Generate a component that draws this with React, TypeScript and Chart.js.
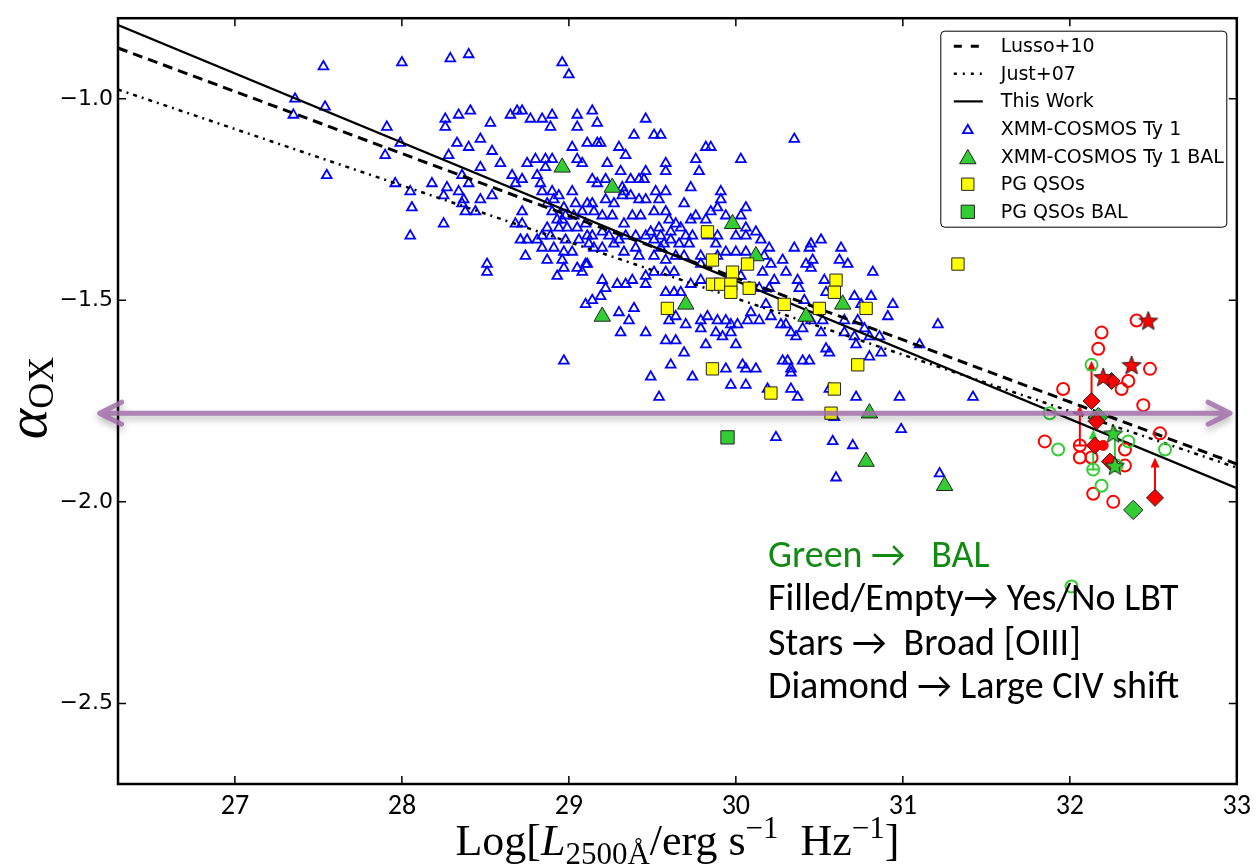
import React, { useEffect, useRef } from 'react';
import { Chart, registerables } from 'chart.js';

Chart.register(...registerables);

// ---------------- data ----------------
const X_MIN = 26.3;
const X_MAX = 33;
const Y_MIN = -2.7;
const Y_MAX = -0.8;
const xTickValues = [27, 28, 29, 30, 31, 32, 33];
const yTickValues = [-2.5, -2.0, -1.5, -1.0];

const lineX = [26.3, 33];
const lussoY = [-0.874, -1.906];
const justY = [-0.977, -1.915];
const thisWorkY = [-0.817, -1.966];

const cosmosTy1: [number, number][] = [
  [27.53,-0.92],[28.00,-0.91],[28.29,-0.90],[28.40,-0.89],[28.96,-0.91],[29.00,-0.94],[27.36,-1.00],[27.35,-1.04],
  [27.54,-1.02],[27.91,-1.07],[27.99,-1.11],[27.90,-1.14],[27.55,-1.19],[27.96,-1.21],[28.05,-1.23],[28.06,-1.27],
  [28.25,-1.31],[28.05,-1.34],[28.51,-1.41],[28.51,-1.43],[28.18,-1.21],[28.26,-1.05],[28.26,-1.07],[28.34,-1.04],
  [28.41,-1.03],[28.53,-1.06],[28.33,-1.11],[28.40,-1.12],[28.47,-1.10],[28.28,-1.14],[28.36,-1.19],[28.40,-1.21],
  [28.47,-1.17],[28.34,-1.23],[28.25,-1.24],[28.37,-1.25],[28.47,-1.25],[28.44,-1.28],[28.38,-1.28],[28.54,-1.13],
  [28.59,-1.16],[28.54,-1.24],[28.65,-1.04],[28.69,-1.03],[28.72,-1.03],[28.77,-1.05],[28.84,-1.05],[28.90,-1.04],
  [28.89,-1.07],[29.05,-1.04],[29.05,-1.07],[29.14,-1.03],[29.17,-1.06],[29.46,-1.05],[29.02,-1.12],[29.11,-1.11],
  [29.17,-1.11],[29.05,-1.15],[29.08,-1.16],[28.90,-1.15],[28.75,-1.16],[28.80,-1.15],[28.86,-1.15],[28.66,-1.19],
  [28.72,-1.20],[28.81,-1.19],[28.68,-1.21],[28.83,-1.21],[28.84,-1.23],[28.90,-1.23],[28.94,-1.24],[28.91,-1.25],
  [29.02,-1.23],[29.14,-1.20],[29.17,-1.21],[28.71,-1.35],[28.75,-1.35],[28.81,-1.35],[28.74,-1.39],[28.84,-1.37],
  [28.87,-1.40],[28.91,-1.37],[28.96,-1.40],[28.97,-1.42],[28.93,-1.44],[29.08,-1.43],[29.02,-1.38],[29.06,-1.35],
  [29.11,-1.41],[29.15,-1.37],[29.12,-1.36],[28.99,-1.32],[28.93,-1.30],[28.87,-1.32],[28.96,-1.30],[29.05,-1.32],
  [29.11,-1.34],[29.15,-1.28],[28.98,-1.35],[29.10,-1.31],[28.94,-1.32],[28.98,-1.29],[29.03,-1.29],[29.08,-1.28],
  [29.11,-1.26],[29.04,-1.26],[28.97,-1.27],[28.90,-1.28],[28.87,-1.26],[28.68,-1.31],[28.72,-1.31],[28.72,-1.28],
  [28.89,-1.34],[29.05,-1.42],[29.10,-1.41],[28.97,-1.38],[29.14,-1.34],[28.97,-1.65],
  [28.27,-1.22],[28.36,-1.26],[28.86,-1.17],[29.14,-1.26],[28.84,-1.34],
  [29.39,-1.09],[29.51,-1.09],[29.55,-1.09],[29.19,-1.11],[29.30,-1.12],[29.34,-1.14],[29.23,-1.16],[29.31,-1.18],
  [29.46,-1.18],[29.45,-1.20],[29.37,-1.20],[29.22,-1.20],[29.32,-1.22],[29.33,-1.23],[29.42,-1.20],[29.58,-1.16],
  [29.58,-1.18],[29.76,-1.15],[29.78,-1.18],[29.82,-1.12],[29.85,-1.12],[30.03,-1.15],[29.73,-1.22],[29.58,-1.23],
  [29.52,-1.23],[29.54,-1.25],[29.46,-1.25],[29.42,-1.25],[29.37,-1.24],[29.32,-1.24],[29.27,-1.26],[29.22,-1.25],
  [29.20,-1.29],[29.26,-1.29],[29.33,-1.31],[29.38,-1.29],[29.43,-1.29],[29.51,-1.28],[29.58,-1.28],[29.64,-1.31],
  [29.69,-1.26],[29.60,-1.30],[29.54,-1.32],[29.49,-1.33],[29.55,-1.34],[29.61,-1.33],[29.67,-1.32],[29.73,-1.30],
  [29.76,-1.29],[29.82,-1.30],[29.85,-1.28],[29.89,-1.27],[29.94,-1.29],[29.91,-1.23],[29.91,-1.25],[30.06,-1.27],
  [30.03,-1.29],[30.06,-1.32],[30.12,-1.33],[30.06,-1.34],[30.00,-1.34],[29.89,-1.34],[29.88,-1.36],[29.79,-1.39],
  [29.83,-1.34],[29.70,-1.34],[29.74,-1.34],[29.72,-1.36],[29.66,-1.36],[29.61,-1.35],[29.57,-1.36],[29.51,-1.35],
  [29.46,-1.34],[29.40,-1.34],[29.34,-1.34],[29.30,-1.35],[29.24,-1.34],[29.20,-1.33],[29.20,-1.37],[29.27,-1.36],
  [29.33,-1.38],[29.40,-1.37],[29.42,-1.39],[29.51,-1.39],[29.55,-1.37],[29.58,-1.40],[29.64,-1.39],[29.69,-1.39],
  [29.79,-1.41],[29.89,-1.39],[29.94,-1.38],[30.00,-1.38],[30.06,-1.38],[30.13,-1.39],[30.17,-1.39],[30.20,-1.37],
  [30.15,-1.35],[30.28,-1.40],[30.30,-1.43],[30.21,-1.41],[30.16,-1.43],[30.23,-1.45],[30.20,-1.47],[30.14,-1.47],
  [30.03,-1.44],[29.63,-1.43],[29.58,-1.43],[29.51,-1.43],[29.46,-1.44],[29.46,-1.46],[29.38,-1.45],[29.34,-1.46],
  [29.29,-1.46],[29.22,-1.47],[29.20,-1.45],[29.58,-1.48],[29.63,-1.48],[29.67,-1.48],[29.73,-1.46],[29.79,-1.45],
  [30.35,-1.10],
  [30.51,-1.35],[30.45,-1.36],[30.44,-1.37],[30.35,-1.37],[30.46,-1.40],[30.42,-1.41],[30.45,-1.42],[30.63,-1.37],
  [30.62,-1.40],[30.67,-1.41],[30.82,-1.43],[30.37,-1.45],[30.38,-1.47],[30.53,-1.45],[30.54,-1.48],[30.71,-1.49],
  [30.81,-1.49],[30.94,-1.51],[30.41,-1.50],
  [29.10,-1.51],[29.14,-1.50],[29.19,-1.49],[29.30,-1.53],[29.36,-1.55],[29.39,-1.52],[29.31,-1.58],[29.46,-1.58],
  [29.58,-1.60],[29.64,-1.60],[29.69,-1.63],[29.61,-1.66],[29.49,-1.69],[29.54,-1.74],[29.74,-1.69],[29.82,-1.61],
  [29.60,-1.55],[29.64,-1.54],[29.70,-1.56],[29.79,-1.57],[29.79,-1.55],[29.83,-1.54],[29.88,-1.58],[29.92,-1.59],
  [29.97,-1.58],[30.00,-1.61],[29.97,-1.56],[30.01,-1.56],[29.94,-1.55],[29.89,-1.55],[30.07,-1.55],[30.09,-1.53],
  [30.14,-1.55],[30.18,-1.51],[30.21,-1.54],[30.27,-1.56],[30.30,-1.56],[30.33,-1.58],[30.36,-1.59],[30.40,-1.57],
  [30.45,-1.55],[30.51,-1.58],[30.52,-1.55],[30.54,-1.62],[30.56,-1.63],[30.65,-1.58],[30.71,-1.59],[30.72,-1.61],
  [30.77,-1.57],[30.80,-1.59],[30.86,-1.59],[30.80,-1.64],[30.87,-1.63],[30.91,-1.54],[31.10,-1.61],[31.21,-1.56],
  [30.73,-1.55],[30.65,-1.55],[30.75,-1.51],[29.94,-1.67],[30.04,-1.66],[30.06,-1.67],[30.12,-1.67],[29.97,-1.71],
  [30.06,-1.71],[30.28,-1.65],[30.31,-1.65],[30.33,-1.67],[30.33,-1.68],[30.40,-1.65],[30.44,-1.65],[30.33,-1.72],
  [30.37,-1.74],[30.19,-1.72],[30.56,-1.72],[30.72,-1.74],[30.98,-1.74],[31.42,-1.74],[30.59,-1.79],[30.24,-1.84],
  [30.58,-1.85],[30.70,-1.86],[30.99,-1.82],[30.60,-1.94],[31.22,-1.93],
];

const cosmosTy1Bal: [number, number][] = [
  [28.96,-1.17],[29.26,-1.22],[29.98,-1.31],[30.12,-1.39],[29.20,-1.54],[29.70,-1.51],
  [30.42,-1.54],[30.64,-1.51],[30.80,-1.78],[30.78,-1.90],[31.25,-1.96],
];

const pgQsos: [number, number][] = [
  [29.83,-1.33],[29.86,-1.40],[29.98,-1.43],[30.07,-1.41],[29.86,-1.46],[29.91,-1.46],[29.97,-1.46],
  [29.97,-1.48],[30.08,-1.47],[29.59,-1.52],[30.29,-1.51],[30.50,-1.52],[30.60,-1.45],[30.59,-1.48],
  [30.78,-1.52],[31.33,-1.41],[29.86,-1.67],[30.73,-1.66],[30.21,-1.73],[30.59,-1.72],[30.57,-1.78],
];

const pgQsosBal: [number, number][] = [[29.95,-1.84]];

// high-z sample (right side)
const redOpen: [number, number][] = [
  [32.40,-1.55],[32.19,-1.58],[32.17,-1.62],[32.48,-1.67],[32.35,-1.70],[32.31,-1.72],[31.96,-1.72],
  [32.44,-1.76],[32.54,-1.83],[31.85,-1.85],[32.06,-1.86],[32.06,-1.89],[32.13,-1.89],[32.33,-1.87],
  [32.33,-1.91],[32.14,-1.98],[32.26,-2.00],
];
const greenOpen: [number, number][] = [
  [32.13,-1.66],[31.88,-1.78],[31.93,-1.87],[32.35,-1.85],[32.57,-1.87],[32.14,-1.92],[32.19,-1.96],
  [32.28,-1.91],[32.01,-2.21],
];
const redDiamond: [number, number][] = [
  [32.13,-1.75],[32.25,-1.70],[32.16,-1.80],[32.15,-1.86],[32.24,-1.90],[32.51,-1.99],
];
const greenDiamond: [number, number][] = [[32.38,-2.02],[32.17,-1.79]];
const redStar: [number, number][] = [[32.47,-1.55],[32.37,-1.66],[32.20,-1.69]];
const greenStar: [number, number][] = [[32.26,-1.83],[32.27,-1.91]];
const redFilled: [number, number][] = [[32.20,-1.86]];

// lower limits: [x, yFrom, yTo]
const redLimits: [number, number, number][] = [[32.13,-1.75,-1.65],[32.06,-1.86,-1.76],[32.51,-1.99,-1.89]];
const greenLimits: [number, number, number][] = [[32.14,-1.92,-1.82],[32.27,-1.91,-1.81]];

// horizontal double arrow (annotation)
const bandArrow = { y: -1.78, x0: 26.19, x1: 32.96 };

const noteLines = [
  { text: 'Green \u2192   BAL', color: '#138a13' },
  { text: 'Filled/Empty\u2192 Yes/No LBT', color: '#000' },
  { text: 'Stars \u2192  Broad [OIII]', color: '#000' },
  { text: 'Diamond \u2192 Large CIV shift', color: '#000' },
];

// ---------------- styles ----------------
const BLUE = '#0000ff';
const LIME = '#32cd32';
const YELLOW = '#ffff00';
const RED = '#ff0000';
const EDGE = '#222';

const pts = (a: [number, number][]) => a.map(([x, y]) => ({ x, y }));

function makeStar(fill: string, outer: number) {
  const inner = outer * 0.42;
  const size = Math.ceil(outer * 2 + 4);
  const c = document.createElement('canvas');
  c.width = size;
  c.height = size;
  const g = c.getContext('2d')!;
  const cx = size / 2;
  const cy = size / 2 + outer * 0.1;
  g.beginPath();
  for (let i = 0; i < 10; i++) {
    const r = i % 2 === 0 ? outer : inner;
    const a = -Math.PI / 2 + (i * Math.PI) / 5;
    const px = cx + r * Math.cos(a);
    const py = cy + r * Math.sin(a);
    if (i === 0) g.moveTo(px, py);
    else g.lineTo(px, py);
  }
  g.closePath();
  g.fillStyle = fill;
  g.fill();
  g.lineWidth = 1;
  g.strokeStyle = EDGE;
  g.stroke();
  return c;
}

function markerPath(ctx: CanvasRenderingContext2D, style: string, x: number, y: number, r: number) {
  ctx.beginPath();
  if (style === 'triangle') {
    let rad = 0;
    ctx.moveTo(x + Math.sin(rad) * r, y - Math.cos(rad) * r);
    rad += (2 * Math.PI) / 3;
    ctx.lineTo(x + Math.sin(rad) * r, y - Math.cos(rad) * r);
    rad += (2 * Math.PI) / 3;
    ctx.lineTo(x + Math.sin(rad) * r, y - Math.cos(rad) * r);
    ctx.closePath();
  } else {
    const s = r * Math.SQRT1_2;
    ctx.rect(x - s, y - s, 2 * s, 2 * s);
  }
}

const SANS = '"DejaVu Sans", sans-serif';
const NARROW = '"Carlito", "Lato", sans-serif';
const NOTE_FONT = '"Carlito", "Open Sans", "Lato", sans-serif';
const SERIF = '"Liberation Serif", "DejaVu Serif", serif';

const TRI_R = 5.6;
const TRI_BW = 1.8;

const overlayPlugin = {
  id: 'overlay',
  beforeDatasetsDraw(chart: any) {
    const { ctx } = chart;
    const xs = chart.scales.x;
    const ys = chart.scales.y;
    const drawLimits = (arr: [number, number, number][], color: string) => {
      arr.forEach(([x, y0, y1]) => {
        const px = xs.getPixelForValue(x);
        const p0 = ys.getPixelForValue(y0);
        const p1 = ys.getPixelForValue(y1);
        ctx.save();
        ctx.strokeStyle = color;
        ctx.fillStyle = color;
        ctx.lineWidth = 2;
        ctx.beginPath();
        ctx.moveTo(px, p0);
        ctx.lineTo(px, p1 + 8);
        ctx.moveTo(px - 5, p0);
        ctx.lineTo(px + 5, p0);
        ctx.stroke();
        ctx.beginPath();
        ctx.moveTo(px, p1);
        ctx.lineTo(px - 4.5, p1 + 10);
        ctx.lineTo(px + 4.5, p1 + 10);
        ctx.closePath();
        ctx.fill();
        ctx.restore();
      });
    };
    drawLimits(redLimits, RED);
    drawLimits(greenLimits, LIME);
  },
  afterDatasetsDraw(chart: any) {
    const { ctx, chartArea: ca } = chart;
    const xs = chart.scales.x;
    const ys = chart.scales.y;
    // frame
    ctx.save();
    ctx.strokeStyle = '#000';
    ctx.lineWidth = 2.5;
    ctx.strokeRect(ca.left, ca.top, ca.right - ca.left, ca.bottom - ca.top);
    ctx.lineWidth = 1.5;
    ctx.beginPath();
    xTickValues.forEach((v) => {
      const px = xs.getPixelForValue(v);
      ctx.moveTo(px, ca.bottom);
      ctx.lineTo(px, ca.bottom - 8);
      ctx.moveTo(px, ca.top);
      ctx.lineTo(px, ca.top + 8);
    });
    yTickValues.forEach((v) => {
      const py = ys.getPixelForValue(v);
      ctx.moveTo(ca.left, py);
      ctx.lineTo(ca.left + 8, py);
      ctx.moveTo(ca.right, py);
      ctx.lineTo(ca.right - 8, py);
    });
    ctx.stroke();
    ctx.restore();

    // purple double arrow
    const y = ys.getPixelForValue(bandArrow.y);
    const x0 = xs.getPixelForValue(bandArrow.x0);
    const x1 = xs.getPixelForValue(bandArrow.x1);
    ctx.save();
    ctx.shadowColor = 'rgba(0,0,0,0.3)';
    ctx.shadowBlur = 7;
    ctx.shadowOffsetY = 4;
    ctx.strokeStyle = 'rgba(163,112,172,0.85)';
    ctx.lineWidth = 5;
    ctx.lineCap = 'round';
    ctx.lineJoin = 'round';
    ctx.beginPath();
    ctx.moveTo(x0 + 3, y);
    ctx.lineTo(x1 - 3, y);
    ctx.moveTo(x0 + 22, y - 11);
    ctx.lineTo(x0, y);
    ctx.lineTo(x0 + 22, y + 11);
    ctx.moveTo(x1 - 22, y - 11);
    ctx.lineTo(x1, y);
    ctx.lineTo(x1 - 22, y + 11);
    ctx.stroke();
    ctx.restore();
  },
  afterDraw(chart: any) {
    const { ctx, chartArea: ca } = chart;
    // legend
    const lw = 286;
    const lh = 196;
    const lx = ca.right - 10 - lw;
    const ly = ca.top + 13;
    ctx.save();
    ctx.beginPath();
    const rr = 4;
    ctx.moveTo(lx + rr, ly);
    ctx.lineTo(lx + lw - rr, ly);
    ctx.arcTo(lx + lw, ly, lx + lw, ly + rr, rr);
    ctx.lineTo(lx + lw, ly + lh - rr);
    ctx.arcTo(lx + lw, ly + lh, lx + lw - rr, ly + lh, rr);
    ctx.lineTo(lx + rr, ly + lh);
    ctx.arcTo(lx, ly + lh, lx, ly + lh - rr, rr);
    ctx.lineTo(lx, ly + rr);
    ctx.arcTo(lx, ly, lx + rr, ly, rr);
    ctx.closePath();
    ctx.fillStyle = '#fff';
    ctx.fill();
    ctx.strokeStyle = '#000';
    ctx.lineWidth = 1;
    ctx.stroke();

    const items = [
      { label: 'Lusso+10', kind: 'line', dash: [8, 9], width: 3 },
      { label: 'Just+07', kind: 'line', dash: [3, 6, 2, 6], width: 2.5 },
      { label: 'This Work', kind: 'line', dash: [], width: 2.2 },
      { label: 'XMM-COSMOS Ty 1', kind: 'triangle', r: TRI_R, fill: 'rgba(0,0,0,0)', stroke: BLUE, bw: TRI_BW },
      { label: 'XMM-COSMOS Ty 1 BAL', kind: 'triangle', r: 9.5, fill: LIME, stroke: EDGE, bw: 1 },
      { label: 'PG QSOs', kind: 'rect', r: 8.7, fill: YELLOW, stroke: EDGE, bw: 1 },
      { label: 'PG QSOs BAL', kind: 'rect', r: 9.4, fill: LIME, stroke: EDGE, bw: 1 },
    ];
    const sx = lx + 27;
    ctx.font = `19px ${SANS}`;
    ctx.textBaseline = 'middle';
    ctx.textAlign = 'left';
    items.forEach((it: any, i) => {
      const cy = ly + 15 + i * 27.6;
      if (it.kind === 'line') {
        ctx.save();
        ctx.strokeStyle = '#000';
        ctx.lineWidth = it.width;
        ctx.setLineDash(it.dash);
        ctx.beginPath();
        ctx.moveTo(sx - 14, cy);
        ctx.lineTo(sx + 15, cy);
        ctx.stroke();
        ctx.restore();
      } else {
        ctx.save();
        markerPath(ctx, it.kind, sx, it.kind === 'triangle' ? cy + it.r * 0.25 : cy, it.r);
        ctx.fillStyle = it.fill;
        ctx.fill();
        ctx.lineWidth = it.bw;
        ctx.strokeStyle = it.stroke;
        ctx.stroke();
        ctx.restore();
      }
      ctx.fillStyle = '#000';
      ctx.fillText(it.label, lx + 60, cy + 1);
    });
    ctx.restore();

    // notes
    ctx.save();
    ctx.font = `38px ${NOTE_FONT}`;
    ctx.textBaseline = 'alphabetic';
    ctx.textAlign = 'left';
    const baselines = [567, 610, 655, 698];
    noteLines.forEach((n, i) => {
      ctx.fillStyle = n.color;
      ctx.fillText(n.text, 768, baselines[i]);
    });
    ctx.restore();

    // x axis title: Log[L_2500Å / erg s^-1 Hz^-1]
    ctx.save();
    const big = 44;
    const small = 31;
    const segs = [
      { t: 'Log[', f: `${big}px ${SERIF}`, dy: 0 },
      { t: 'L', f: `italic ${big}px ${SERIF}`, dy: 0 },
      { t: '2500\u00c5', f: `${small}px ${SERIF}`, dy: 9 },
      { t: '/erg s', f: `${big}px ${SERIF}`, dy: 0 },
      { t: '\u22121', f: `${small}px ${SERIF}`, dy: -17 },
      { t: '  Hz', f: `${big}px ${SERIF}`, dy: 0 },
      { t: '\u22121', f: `${small}px ${SERIF}`, dy: -17 },
      { t: ']', f: `${big}px ${SERIF}`, dy: 0 },
    ];
    let total = 0;
    const widths = segs.map((s) => {
      ctx.font = s.f;
      const w = ctx.measureText(s.t).width;
      total += w;
      return w;
    });
    let cx = (ca.left + ca.right) / 2 - total / 2;
    const base = 855;
    ctx.fillStyle = '#000';
    ctx.textBaseline = 'alphabetic';
    segs.forEach((s, i) => {
      ctx.font = s.f;
      ctx.fillText(s.t, cx, base + s.dy);
      cx += widths[i];
    });
    ctx.restore();

    // y axis title: alpha_OX
    ctx.save();
    ctx.translate(46, 398);
    ctx.rotate(-Math.PI / 2);
    ctx.fillStyle = '#000';
    ctx.textBaseline = 'alphabetic';
    ctx.font = `italic 58px ${SERIF}`;
    const wa = ctx.measureText('\u03b1').width;
    ctx.font = `36px ${SERIF}`;
    const wo = ctx.measureText('OX').width;
    const start = -(wa + wo) / 2;
    ctx.font = `italic 58px ${SERIF}`;
    ctx.fillText('\u03b1', start, 0);
    ctx.font = `36px ${SERIF}`;
    ctx.fillText('OX', start + wa, 7);
    ctx.restore();
  },
};

export default function App() {
  const ref = useRef<HTMLCanvasElement | null>(null);

  useEffect(() => {
    if (!ref.current) return;
    const redStarImg = makeStar(RED, 10);
    const greenStarImg = makeStar(LIME, 10);

    const chart = new Chart(ref.current, {
      type: 'scatter',
      data: {
        datasets: [
          {
            label: 'XMM-COSMOS Ty 1',
            data: pts(cosmosTy1),
            pointStyle: 'triangle',
            pointRadius: TRI_R,
            pointBorderWidth: TRI_BW,
            borderColor: BLUE,
            backgroundColor: 'rgba(0,0,0,0)',
            order: 20,
          },
          {
            label: 'Lusso+10',
            data: lineX.map((x, i) => ({ x, y: lussoY[i] })),
            showLine: true,
            borderColor: '#000',
            borderWidth: 3,
            borderDash: [10, 6],
            pointRadius: 0,
            order: 15,
          },
          {
            label: 'Just+07',
            data: lineX.map((x, i) => ({ x, y: justY[i] })),
            showLine: true,
            borderColor: '#000',
            borderWidth: 2.5,
            borderDash: [4, 5, 2, 5],
            pointRadius: 0,
            order: 14,
          },
          {
            label: 'This Work',
            data: lineX.map((x, i) => ({ x, y: thisWorkY[i] })),
            showLine: true,
            borderColor: '#000',
            borderWidth: 2.3,
            pointRadius: 0,
            order: 13,
          },
          {
            label: 'XMM-COSMOS Ty 1 BAL',
            data: pts(cosmosTy1Bal),
            pointStyle: 'triangle',
            pointRadius: 9.5,
            pointBorderWidth: 1,
            borderColor: EDGE,
            backgroundColor: LIME,
            order: 10,
          },
          {
            label: 'PG QSOs',
            data: pts(pgQsos),
            pointStyle: 'rect',
            pointRadius: 8.7,
            pointBorderWidth: 1,
            borderColor: EDGE,
            backgroundColor: YELLOW,
            order: 9,
          },
          {
            label: 'PG QSOs BAL',
            data: pts(pgQsosBal),
            pointStyle: 'rect',
            pointRadius: 9.4,
            pointBorderWidth: 1,
            borderColor: EDGE,
            backgroundColor: LIME,
            order: 8,
          },
          {
            label: 'no LBT',
            data: pts(redOpen),
            pointStyle: 'circle',
            pointRadius: 6,
            pointBorderWidth: 2,
            borderColor: RED,
            backgroundColor: 'rgba(0,0,0,0)',
            order: 7,
          },
          {
            label: 'no LBT BAL',
            data: pts(greenOpen),
            pointStyle: 'circle',
            pointRadius: 6,
            pointBorderWidth: 2,
            borderColor: LIME,
            backgroundColor: 'rgba(0,0,0,0)',
            order: 6,
          },
          {
            label: 'BAL diamond',
            data: pts(greenDiamond),
            pointStyle: 'rectRot',
            pointRadius: 9.7,
            pointBorderWidth: 1,
            borderColor: EDGE,
            backgroundColor: LIME,
            order: 5,
          },
          {
            label: 'CIV shift',
            data: pts(redDiamond),
            pointStyle: 'rectRot',
            pointRadius: 8.5,
            pointBorderWidth: 1,
            borderColor: EDGE,
            backgroundColor: RED,
            order: 4,
          },
          {
            label: 'LBT',
            data: pts(redFilled),
            pointStyle: 'circle',
            pointRadius: 5,
            pointBorderWidth: 1,
            borderColor: RED,
            backgroundColor: RED,
            order: 3,
          },
          {
            label: 'Broad OIII',
            data: pts(redStar),
            pointStyle: redStarImg as any,
            pointRadius: 10,
            order: 2,
          },
          {
            label: 'Broad OIII BAL',
            data: pts(greenStar),
            pointStyle: greenStarImg as any,
            pointRadius: 10,
            order: 1,
          },
        ],
      },
      options: {
        responsive: false,
        animation: false,
        events: [],
        devicePixelRatio: 1,
        layout: { padding: { top: 9, right: 19, left: 0, bottom: 0 } },
        plugins: {
          legend: { display: false },
          tooltip: { enabled: false },
          title: { display: false },
        },
        scales: {
          x: {
            type: 'linear',
            min: X_MIN,
            max: X_MAX,
            grid: { display: false, drawTicks: false },
            border: { display: false },
            afterFit: (s: any) => {
              s.height = 83;
            },
            afterBuildTicks: (s: any) => {
              s.ticks = xTickValues.map((v) => ({ value: v }));
            },
            ticks: {
              color: '#000',
              padding: 6,
              maxRotation: 0,
              autoSkip: false,
              font: { family: NARROW, size: 28 },
              callback: (v: any) => String(v),
            },
          },
          y: {
            type: 'linear',
            min: Y_MIN,
            max: Y_MAX,
            grid: { display: false, drawTicks: false },
            border: { display: false },
            afterFit: (s: any) => {
              s.width = 118;
            },
            afterBuildTicks: (s: any) => {
              s.ticks = yTickValues.map((v) => ({ value: v }));
            },
            ticks: {
              color: '#000',
              padding: 5,
              autoSkip: false,
              font: { family: SANS, size: 22 },
              callback: (v: any) => (v < 0 ? '\u2212' : '') + Math.abs(Number(v)).toFixed(1),
            },
          },
        },
      },
      plugins: [overlayPlugin],
    });
    return () => chart.destroy();
  }, []);

  return (
    <div style={{ position: 'fixed', left: 0, top: 0, width: 1257, height: 867, background: '#fff' }}>
      <canvas ref={ref} width={1257} height={867} style={{ display: 'block' }} />
    </div>
  );
}
